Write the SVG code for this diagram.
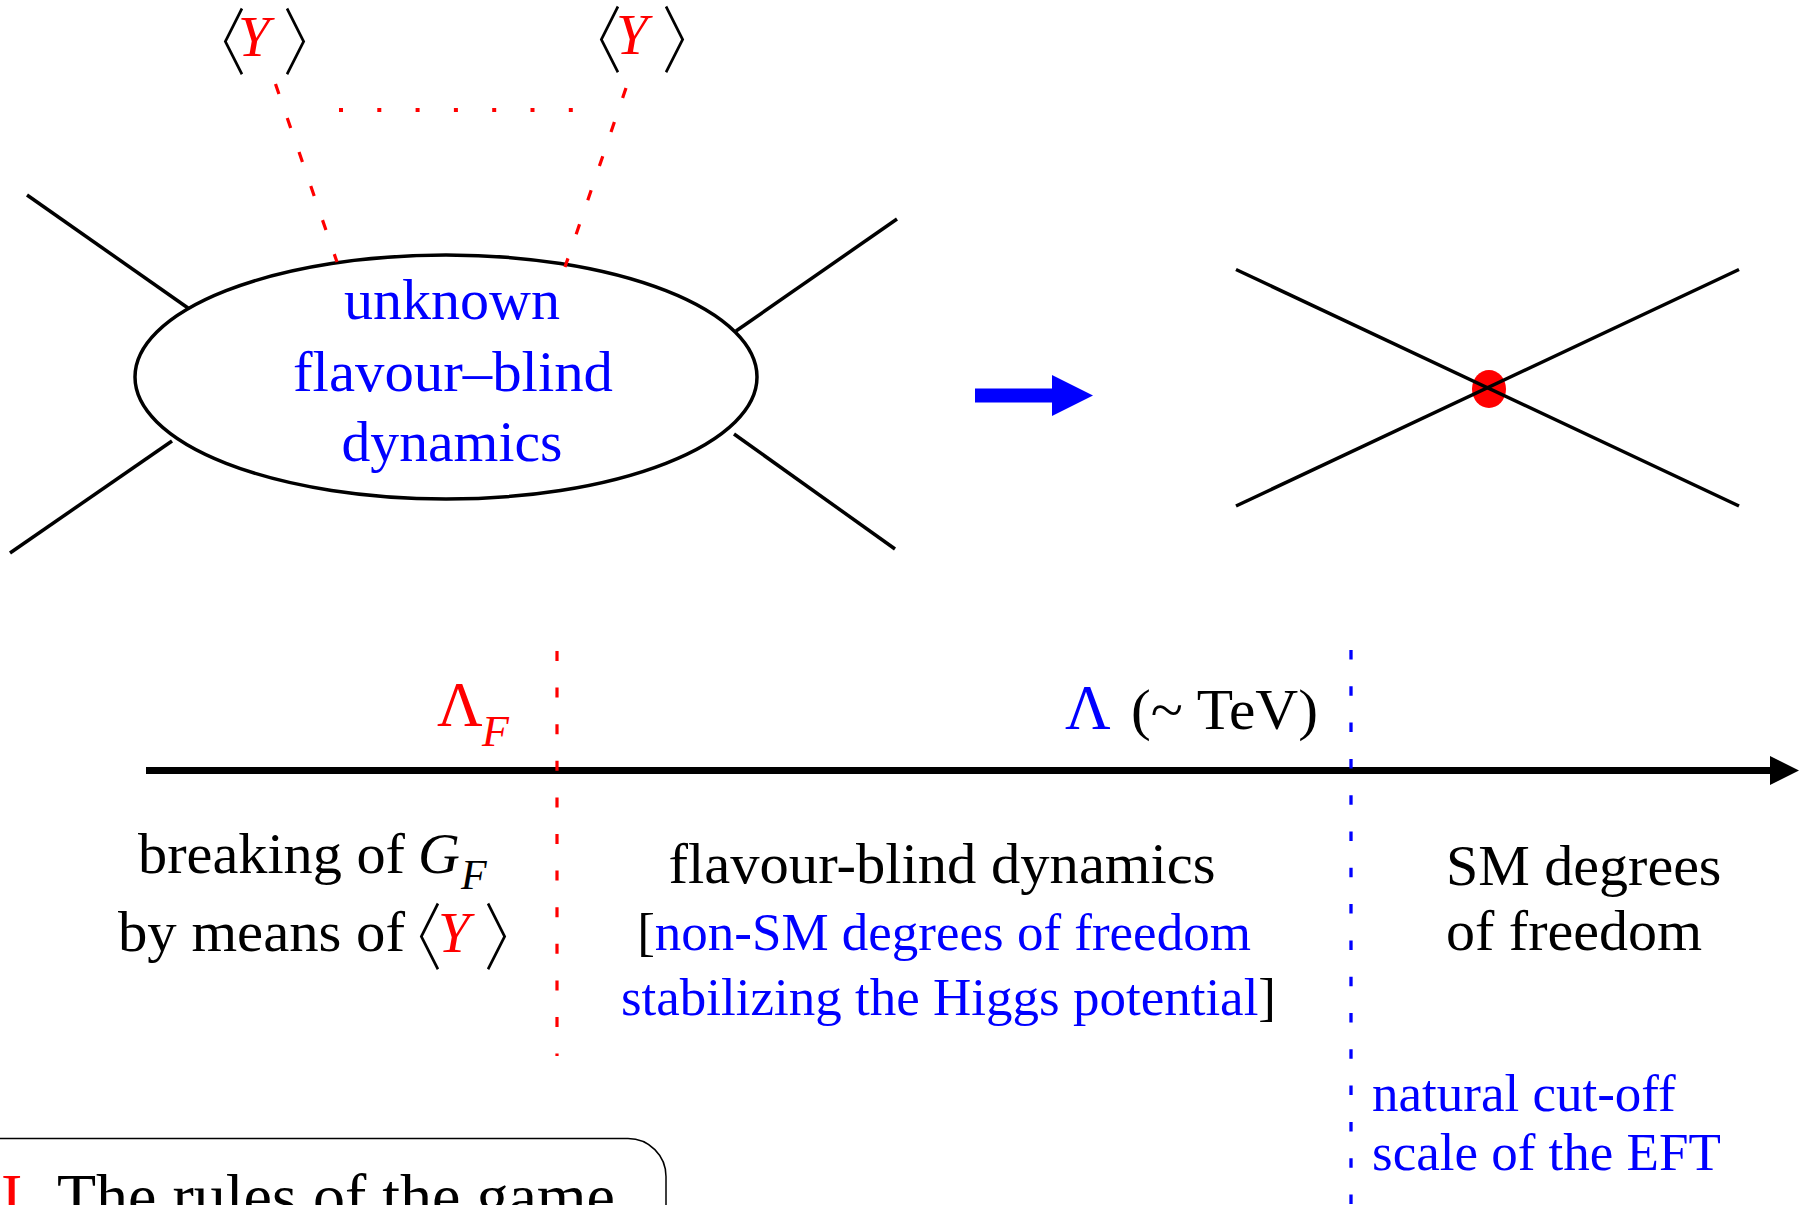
<svg xmlns="http://www.w3.org/2000/svg" width="1803" height="1205" viewBox="0 0 1803 1205">
<style>
  .t{font-family:"Liberation Serif","Times New Roman",serif;}
  .i{font-style:italic;}
  .br{font-family:"Noto Sans CJK JP","Noto Sans CJK SC",sans-serif;font-weight:200;fill:#000;font-size:56px;}
  .red{fill:#ff0000;}
  .blue{fill:#0000ff;}
  .blk{fill:#000;}
  .ln{stroke:#000;stroke-width:3.5;fill:none;stroke-linecap:butt;}
  .rdash{stroke:#ff0000;stroke-width:3.2;fill:none;stroke-dasharray:10.5 25.5;}
  .bdash{stroke:#0000ff;stroke-width:3.3;fill:none;stroke-dasharray:9.5 26.8;}
</style>
<rect width="1803" height="1205" fill="#fff"/>

<g id="blob">
  <ellipse cx="446" cy="377" rx="311" ry="122" fill="none" stroke="#000" stroke-width="3.5"/>
  <text class="t blue" x="452" y="319" font-size="58" text-anchor="middle" textLength="216" lengthAdjust="spacingAndGlyphs">unknown</text>
  <text class="t blue" x="453" y="391" font-size="58" text-anchor="middle" textLength="320" lengthAdjust="spacingAndGlyphs">flavour–blind</text>
  <text class="t blue" x="452" y="461" font-size="58" text-anchor="middle" textLength="221" lengthAdjust="spacingAndGlyphs">dynamics</text>
</g>

<g id="yleft">
  <text class="br" transform="translate(190,69) scale(1,1.3)">〈</text>
  <text class="t i red" x="238" y="56" font-size="57">Y</text>
  <text class="br" transform="translate(283,69) scale(1,1.3)">〉</text>
</g>
<g id="yright">
  <text class="br" transform="translate(566,67) scale(1,1.3)">〈</text>
  <text class="t i red" x="616" y="54" font-size="57">Y</text>
  <text class="br" transform="translate(662,67) scale(1,1.3)">〉</text>
</g>

<g id="vertex">
  <ellipse cx="1489" cy="389" rx="17" ry="19" fill="#ff0000"/>
</g>

<g id="connectors">
  <line class="ln" x1="27" y1="195" x2="188" y2="308"/>
  <line class="ln" x1="172" y1="441" x2="10" y2="553"/>
  <line class="ln" x1="736" y1="331" x2="897" y2="219"/>
  <line class="ln" x1="734" y1="434" x2="895" y2="549"/>
  <line class="rdash" x1="275.5" y1="84" x2="337" y2="262"/>
  <line class="rdash" x1="626" y1="88" x2="565" y2="267"/>
  <line x1="339" y1="110" x2="575" y2="110" stroke="#ff0000" stroke-width="4" stroke-dasharray="4 34.3"/>
  <polygon points="975,388.5 1052,388.5 1052,375 1093,395.5 1052,416 1052,402.5 975,402.5" fill="#0000ff"/>
  <line class="ln" x1="1236" y1="269.5" x2="1739" y2="506"/>
  <line class="ln" x1="1739" y1="269.5" x2="1236" y2="506"/>
  <line x1="146" y1="770.5" x2="1772" y2="770.5" stroke="#000" stroke-width="7"/>
  <polygon points="1770,756 1799,770.5 1770,785" fill="#000"/>
  <line class="rdash" x1="557" y1="651" x2="557" y2="1056" style="stroke-dasharray:10 26.6"/>
  <line class="bdash" x1="1351" y1="650" x2="1351" y2="1210"/>
</g>

<g id="lambdaF">
  <text class="t red" x="437" y="726" font-size="63">Λ</text>
  <text class="t i red" x="482" y="746" font-size="44">F</text>
</g>
<g id="lambda">
  <text class="t blue" x="1065" y="729" font-size="63">Λ</text>
  <text class="t blk" x="1131" y="729" font-size="58" textLength="187" lengthAdjust="spacingAndGlyphs">(~ TeV)</text>
</g>

<g id="left-label">
  <text class="t blk" x="138" y="873" font-size="58" textLength="267" lengthAdjust="spacingAndGlyphs">breaking of</text>
  <text class="t i blk" x="418" y="873" font-size="58">G</text>
  <text class="t i blk" x="461" y="889" font-size="42">F</text>
  <text class="t blk" x="118" y="951" font-size="58" textLength="287" lengthAdjust="spacingAndGlyphs">by means of</text>
  <text class="br" transform="translate(386,964) scale(1,1.3)">〈</text>
  <text class="t i red" x="438" y="952" font-size="57">Y</text>
  <text class="br" transform="translate(484,964) scale(1,1.3)">〉</text>
</g>

<g id="middle-label">
  <text class="t blk" x="942" y="883" font-size="58" text-anchor="middle" textLength="547" lengthAdjust="spacingAndGlyphs">flavour-blind dynamics</text>
  <text class="t" x="944" y="950" font-size="53" text-anchor="middle"><tspan class="blk">[</tspan><tspan class="blue">non-SM degrees of freedom</tspan></text>
  <text class="t" x="948.5" y="1015" font-size="53" text-anchor="middle"><tspan class="blue">stabilizing the Higgs potential</tspan><tspan class="blk">]</tspan></text>
</g>

<g id="right-label">
  <text class="t blk" x="1446" y="885" font-size="58">SM degrees</text>
  <text class="t blk" x="1446" y="950" font-size="58">of freedom</text>
</g>

<g id="cutoff-label">
  <text class="t blue" x="1372" y="1111" font-size="53">natural cut-off</text>
  <text class="t blue" x="1372" y="1170" font-size="53">scale of the EFT</text>
</g>

<g id="section-box">
  <rect x="-60" y="1138.5" width="726" height="200" rx="38" ry="38" fill="none" stroke="#000" stroke-width="1.5"/>
  <text class="t red" x="1" y="1218" font-size="64">I</text>
  <text class="t blk" x="57" y="1218" font-size="64">The rules of the game</text>
</g>
</svg>
